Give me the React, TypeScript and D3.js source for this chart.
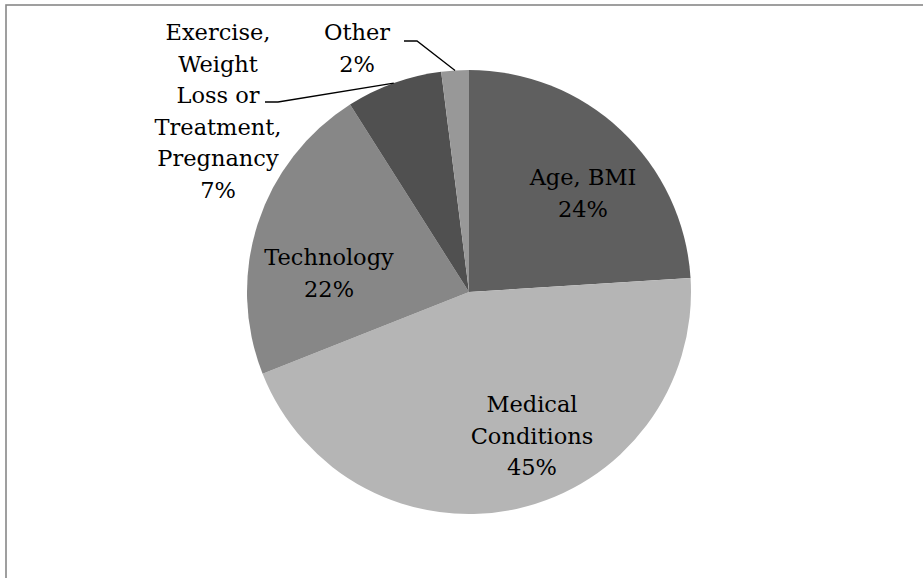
import React from "react";
import * as d3 from "d3";

// Share of responses by category
const categories = ["Age, BMI", "Medical Conditions", "Technology", "Exercise, Weight Loss or Treatment, Pregnancy", "Other"];
const values = [24, 45, 22, 7, 2];
const fills = ["#5f5f5f", "#b5b5b5", "#878787", "#505050", "#989898"];

// Label text lines (category lines followed by the percentage)
const labelLines = [
  ["Age, BMI"],
  ["Medical", "Conditions"],
  ["Technology"],
  ["Exercise,", "Weight", "Loss or", "Treatment,", "Pregnancy"],
  ["Other"],
];

const W = 923;
const H = 578;
const cx = 469;
const cy = 292;
const R = 222;
const lineH = 31.5;

// Label block placement relative to the pie centre: [x, first baseline]
const labelPos: [number, number][] = [
  [114, -107],
  [63, 120],
  [-140, -27],
  [-251, -252],
  [-112, -252],
];

// Leader elbow for outside labels: [start x, start y, elbow x] relative to centre
const leaders: Record<number, [number, number, number]> = {
  3: [-204, -190, -191],
  4: [-65, -251, -52],
};

export default function App() {
  const pie = d3.pie<number>().sort(null).value((d) => d);
  const arcs = pie(values);
  const arc = d3.arc<d3.PieArcDatum<number>>().innerRadius(0).outerRadius(R);
  const total = d3.sum(values);
  const fmt = d3.format(".0%");

  return (
    <svg width={W} height={H} style={{ position: "absolute", left: 0, top: 0, background: "#fff" }}>
      <rect x={6} y={5} width={W + 10} height={H + 10} fill="#fff" stroke="#888" strokeWidth={1.6} />
      <g transform={`translate(${cx},${cy})`}>
        {arcs.map((a, i) => (
          <path key={categories[i]} d={arc(a) ?? ""} fill={fills[i]} />
        ))}
        {Object.entries(leaders).map(([k, l]) => {
          const i = +k;
          const mid = (arcs[i].startAngle + arcs[i].endAngle) / 2;
          const ex = Math.sin(mid) * R;
          const ey = -Math.cos(mid) * R;
          return (
            <polyline
              key={k}
              points={`${l[0]},${l[1]} ${l[2]},${l[1]} ${ex},${ey}`}
              fill="none"
              stroke="#000"
              strokeWidth={1.3}
            />
          );
        })}
        {arcs.map((a, i) => {
          const lines = [...labelLines[i], fmt(values[i] / total)];
          const [lx, ly] = labelPos[i];
          return (
            <text
              key={"l" + i}
              x={lx}
              y={ly}
              textAnchor="middle"
              fontFamily="'DejaVu Serif', serif"
              fontSize={22.5}
              fill="#000"
            >
              {lines.map((t, j) => (
                <tspan key={j} x={lx} y={ly + j * lineH}>
                  {t}
                </tspan>
              ))}
            </text>
          );
        })}
      </g>
    </svg>
  );
}
